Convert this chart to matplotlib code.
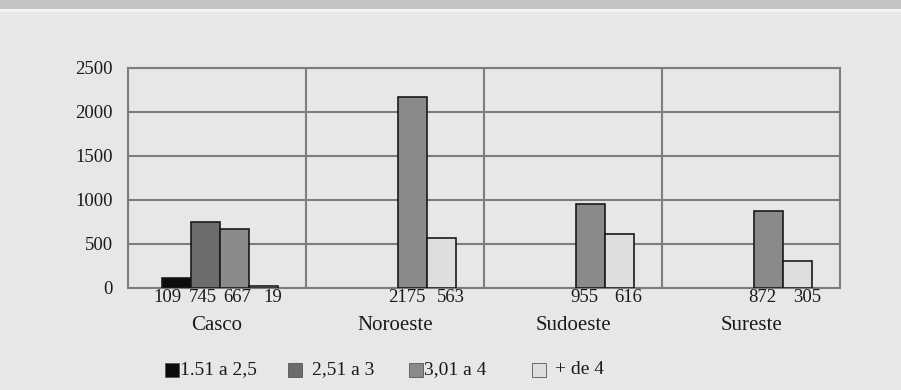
import matplotlib
matplotlib.use("Agg")
import matplotlib.pyplot as plt
import numpy as np
from matplotlib.patches import Rectangle

# ---- data ----
categories = ["Casco", "Noroeste", "Sudoeste", "Sureste"]
series_names = ["1.51 a 2,5", "2,51 a 3", "3,01 a 4", "+ de 4"]
s1 = [109, np.nan, np.nan, np.nan]
s2 = [745, np.nan, np.nan, np.nan]
s3 = [667, 2175, 955, 872]
s4 = [19, 563, 616, 305]
series_values = [s1, s2, s3, s4]
y_ticks = [0, 500, 1000, 1500, 2000, 2500]

colors = ["#0c0c0c", "#6c6c6c", "#8a8a8a", "#dedede"]
bg = "#e7e7e7"
W, H = 901, 390

plt.rcParams["font.family"] = ["Liberation Serif", "DejaVu Serif"]

fig = plt.figure(figsize=(W/100, H/100), dpi=100, facecolor=bg)
# scan top band
fig.patches.append(Rectangle((0, 1 - 9/H), 1, 9/H, transform=fig.transFigure,
                             facecolor="#c4c4c4", edgecolor="none", zorder=0))
fig.patches.append(Rectangle((0, 1 - 12/H), 1, 3/H, transform=fig.transFigure,
                             facecolor="#f4f4f4", edgecolor="none", zorder=0))

ax = fig.add_axes([128/W, 102/H, 712/W, 220/H])
ax.set_facecolor(bg)

n = len(categories)
x = np.arange(n)
bw = 0.163
offsets = (np.arange(4) - 1.5) * bw + 0.015
label_offsets = (np.arange(4) - 1.5) * 0.197 + 0.017
grid_c = "#7d7d7d"
txt_c = "#1a1a1a"

for i, (name, vals, col) in enumerate(zip(series_names, series_values, colors)):
    xs = x + offsets[i]
    ax.bar(xs, vals, width=bw, color=col, edgecolor=txt_c, linewidth=1.2,
           label=name, zorder=3)

# value labels under the axis
for g in range(n):
    for i in range(4):
        v = series_values[i][g]
        if np.isnan(v):
            continue
        lx = x[g] + label_offsets[i]
        if i > 0 and np.isnan(series_values[i - 1][g]):
            lx -= 0.05
        ax.annotate(f"{int(v)}", (lx, 0), xytext=(0, -1), textcoords="offset points",
                    ha="center", va="top", fontsize=13.5, color=txt_c,
                    annotation_clip=False)

ax.set_xlim(-0.5, n - 0.5)
ax.set_ylim(0, 2500)
ax.set_yticks(y_ticks)
ax.set_yticklabels([str(t) for t in y_ticks], fontsize=13.5, color=txt_c)
ax.tick_params(axis="y", length=0, pad=11)
ax.set_xticks(x)
ax.set_xticklabels(categories, fontsize=15, color=txt_c)
ax.tick_params(axis="x", length=0, pad=20)
ax.yaxis.grid(True, color=grid_c, linewidth=1.5, zorder=1)
for b in np.arange(n + 1) - 0.5:
    ax.axvline(b, color=grid_c, linewidth=1.5, zorder=1)
for s in ax.spines.values():
    s.set_color(grid_c)
    s.set_linewidth(1.5)

# manual legend (positions in pixels)
sq_x = [165, 288, 409, 532]
tx_x = [180, 312, 424, 555]
for name, col, sx, tx in zip(series_names, colors, sq_x, tx_x):
    fig.add_artist(Rectangle((sx/W, (H - 377)/H), 14/W, 14/H, transform=fig.transFigure,
                             facecolor=col, edgecolor="#555555", linewidth=0.6))
    fig.text(tx/W, (H - 370)/H, name, ha="left", va="center", fontsize=14, color=txt_c)

fig.savefig("out.png", dpi=100, facecolor=bg)
